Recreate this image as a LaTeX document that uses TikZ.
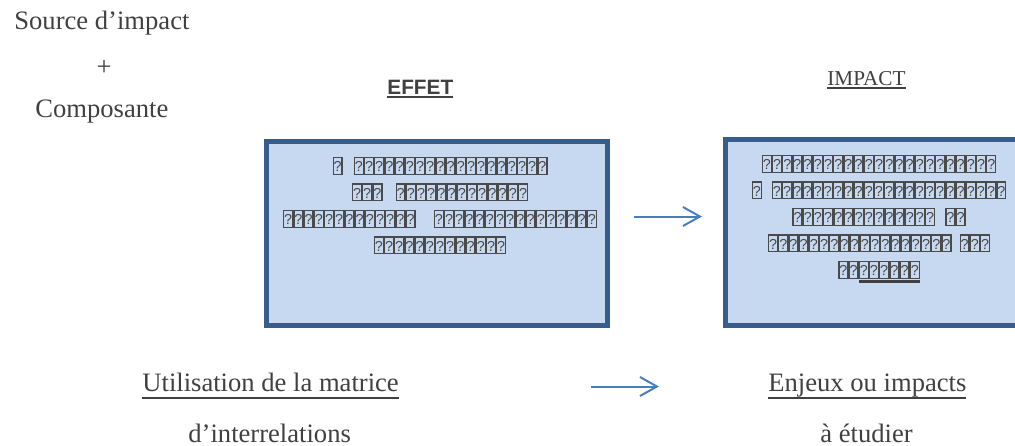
\documentclass[tikz,border=0pt]{standalone}
\usepackage{fontspec}
\setmainfont{Liberation Serif}
\setsansfont{Liberation Sans}
\usetikzlibrary{positioning,arrows.meta}

\definecolor{txtgray}{HTML}{404040}
\definecolor{boxline}{HTML}{385D8A}
\definecolor{boxfill}{HTML}{C6D9F1}
\definecolor{arrowblue}{HTML}{4A7EBB}
\definecolor{glyphgray}{HTML}{4A4A4A}

% underline: depth, thickness, text
\newsavebox\ulsave
\newcommand\ulin[3]{\sbox\ulsave{#3}\rlap{\rule[-#1]{\wd\ulsave}{#2}}\usebox\ulsave}

% missing glyph boxes
\newcommand\qb{{\setlength\fboxsep{0pt}\setlength\fboxrule{0.65pt}\color{glyphgray}%
  \fbox{\makebox[3.8pt]{\rule{0pt}{7.7pt}\raisebox{1pt}{\fontsize{7.2}{7}\sffamily ?}}}}}
\newcommand\qbs[1]{\foreach \k in {1,...,#1}{\qb}}

\tikzset{
  lbl/.style={inner sep=0pt, text=txtgray, font=\fontsize{13.3}{16}\selectfont},
  bigbox/.style={draw=boxline, fill=boxfill, line width=2.5pt, inner sep=0pt, outer sep=0pt},
  glyphs/.style={inner sep=0pt, align=center, text=txtgray, font=\fontsize{6}{13.25}\selectfont},
  flow/.style={draw=arrowblue, line width=1pt, -{Straight Barb[length=8.5pt,width=9.5pt]}}
}

\begin{document}
\begin{tikzpicture}[x=0.5pt, y=-0.5pt]
  \useasboundingbox (0,0) rectangle (1015,445);
  \clip (0,0) rectangle (1015,445);

  % left column
  \node[lbl, anchor=base west] (source) at (14,29.5) {Source d’impact};
  \node[lbl] (plus) at (104,67.5) {+};
  \node[lbl, anchor=base west] (compo) at (35,117.5) {Composante};

  % headings
  \node[lbl, anchor=base west, font=\fontsize{10.4}{12}\sffamily\bfseries] (effethead) at (387,94)
    {\ulin{2.2pt}{1.4pt}{EFFET}};
  \node[lbl, anchor=base west, font=\fontsize{10.6}{12}\selectfont] (impacthead) at (827,85)
    {\ulin{2pt}{0.8pt}{IMPACT}};

  % boxes
  \node[bigbox, minimum width=170.5pt, minimum height=92pt] (effet) at (437,233.5) {};
  \node[bigbox, minimum width=154.75pt, minimum height=92.75pt] (impact) at (880.25,232.25) {};

  \node[glyphs, below=7.5pt of effet.north, xshift=1.5pt] (effettxt)
    {\qb\hspace{5.5pt}\qbs{19}\\ \qbs{3}\hspace{6.5pt}\qbs{13}\\
     \qbs{13}\hspace{9pt}\qbs{16}\\ \qbs{13}};
  \node[glyphs, below=7.5pt of impact.north, xshift=-0.6pt] (impacttxt)
    {\qbs{23}\\ \qb\hspace{5pt}\qbs{23}\\ \qbs{14}\hspace{5pt}\qbs{2}\\
     \qbs{18}\hspace{4pt}\qbs{3}\\ \qbs{2}\ulin{2.5pt}{1.5pt}{\qbs{6}}};

  % bottom row
  \node[lbl, anchor=base west] (matrice) at (142,391) {\ulin{4pt}{1.2pt}{Utilisation de la matrice}};
  \node[lbl, anchor=base west] (interrel) at (188,442) {d’interrelations};
  \node[lbl, anchor=base west] (enjeux) at (768,391) {\ulin{4pt}{1.2pt}{Enjeux ou impacts}};
  \node[lbl, anchor=base west] (etudier) at (820,442) {\ulin{4pt}{1.2pt}{à étudier}};

  % arrows
  \coordinate (effetout) at (634,216.5);
  \coordinate (impactin) at (702,216.5);
  \coordinate (matout) at (591,386.5);
  \coordinate (enjin) at (659,386.5);
  \draw[flow] (effetout) -- (impactin);
  \draw[flow] (matout) -- (enjin);
\end{tikzpicture}
\end{document}
